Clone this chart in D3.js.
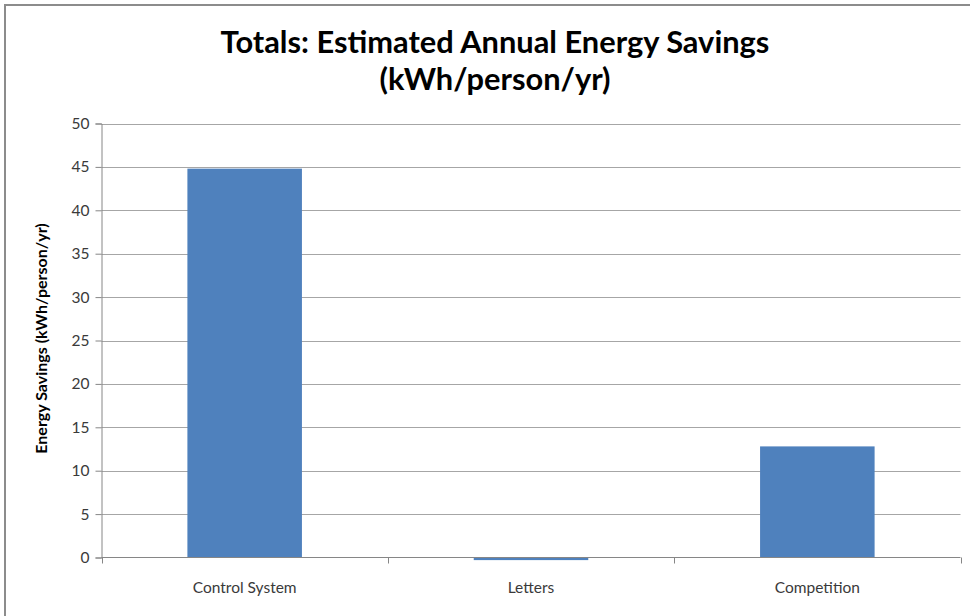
<!DOCTYPE html>
<html>
<head>
<meta charset="utf-8">
<script src="https://cdn.jsdelivr.net/npm/d3@7"></script>
<style>
  html, body { margin: 0; padding: 0; background: #fff; }
  svg { display: block; }
</style>
</head>
<body>
<svg id="chart" width="970" height="616"></svg>
<script>
// Estimated annual savings per programme
const categories = ["Control System", "Letters", "Competition"];
const savings = [44.8, -0.3, 12.8];
const yTicks = [0, 5, 10, 15, 20, 25, 30, 35, 40, 45, 50];
const titleLines = ["Totals: Estimated Annual Energy Savings", "(kWh/person/yr)"];
const yAxisTitle = "Energy Savings (kWh/person/yr)";

const svg = d3.select("#chart");
const font = "Lato, 'Open Sans', sans-serif";

// Outer frame of the chart area
svg.append("rect")
  .attr("x", 5).attr("y", 5)
  .attr("width", 980).attr("height", 640)
  .attr("fill", "#fff")
  .attr("stroke", "#8c8c8c")
  .attr("stroke-width", 2);

const plot = { left: 101.5, right: 960.5, top: 123.5, bottom: 557.5 };

const x = d3.scaleBand()
  .domain(categories)
  .range([plot.left, plot.right])
  .paddingInner(0.6)
  .paddingOuter(0.3);

const y = d3.scaleLinear()
  .domain([0, 50])
  .range([plot.bottom, plot.top]);

// Horizontal gridlines
svg.append("g")
  .selectAll("line")
  .data(yTicks.filter(d => d !== 0))
  .join("line")
  .attr("x1", plot.left).attr("x2", plot.right)
  .attr("y1", d => Math.round(y(d)) + 0.5).attr("y2", d => Math.round(y(d)) + 0.5)
  .attr("stroke", "#a6a6a6")
  .attr("stroke-width", 1);

// Bars
svg.append("g")
  .selectAll("rect")
  .data(categories.map((c, i) => ({ c, v: savings[i] })))
  .join("rect")
  .attr("x", d => x(d.c))
  .attr("width", x.bandwidth())
  .attr("y", d => y(Math.max(0, d.v)))
  .attr("height", d => Math.abs(y(d.v) - y(0)))
  .attr("fill", "#4f81bd");

// Y axis
const yAxis = svg.append("g")
  .attr("transform", `translate(${plot.left},0)`)
  .call(d3.axisLeft(y).tickValues(yTicks).tickSize(6).tickPadding(6).tickFormat(d3.format("d")));
yAxis.select(".domain").attr("stroke", "#868686");
yAxis.selectAll(".tick line").attr("stroke", "#868686");
yAxis.selectAll(".tick text")
  .attr("font-family", font)
  .attr("font-size", 15.5)
  .attr("fill", "#3a3a3a");

// X axis with tick marks at category boundaries
const xAxisG = svg.append("g")
  .attr("transform", `translate(0,${plot.bottom})`);
xAxisG.append("line")
  .attr("x1", plot.left).attr("x2", plot.right)
  .attr("y1", 0).attr("y2", 0)
  .attr("stroke", "#868686");
const step = x.step();
const boundaries = d3.range(categories.length + 1).map(i => plot.left + i * step);
xAxisG.selectAll(".bt")
  .data(boundaries)
  .join("line")
  .attr("class", "bt")
  .attr("x1", d => Math.round(d) + 0.5).attr("x2", d => Math.round(d) + 0.5)
  .attr("y1", 0).attr("y2", 6)
  .attr("stroke", "#868686");
xAxisG.selectAll(".cl")
  .data(categories)
  .join("text")
  .attr("class", "cl")
  .attr("x", d => x(d) + x.bandwidth() / 2)
  .attr("y", 35)
  .attr("text-anchor", "middle")
  .attr("font-family", font)
  .attr("font-size", 15.5)
  .attr("fill", "#3a3a3a")
  .text(d => d);

// Title
svg.append("g")
  .selectAll("text")
  .data(titleLines)
  .join("text")
  .attr("x", 495)
  .attr("y", (d, i) => 53 + i * 37)
  .attr("text-anchor", "middle")
  .attr("font-family", font)
  .attr("font-weight", "bold")
  .attr("font-size", 30.8)
  .attr("fill", "#000")
  .text(d => d);

// Y axis title
svg.append("text")
  .attr("transform", `translate(47,${(plot.top + plot.bottom) / 2 - 2}) rotate(-90)`)
  .attr("text-anchor", "middle")
  .attr("font-family", font)
  .attr("font-weight", "bold")
  .attr("font-size", 16)
  .attr("fill", "#000")
  .text(yAxisTitle);
</script>
</body>
</html>
